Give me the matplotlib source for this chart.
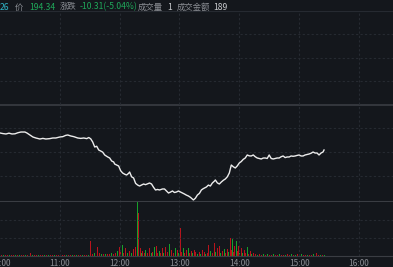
#import all necessary modules
import numpy as np
import matplotlib.pyplot as plt

plt.rcParams['font.family'] = ['Noto Sans CJK SC', 'DejaVu Sans']

#------------------------------#
#-----data---------------------#
#------------------------------#

prev_close = 204.65

# minutes after 10:00 and price
price_min = [0, 3, 6, 9, 12, 15, 18, 21, 25, 27, 30, 33, 36, 40, 43, 46, 50, 53, 56, 60,
             63, 66, 68, 71, 74, 78, 81, 84, 87, 89, 91, 93, 95, 97, 99, 101, 103, 105, 108, 110,
             112, 114, 115, 117, 119, 121, 123, 125, 127, 129, 130, 132, 134, 136, 138, 140, 142, 144, 146, 148,
             150, 152, 154, 156, 158, 160, 163, 165, 167, 169, 171, 173, 175, 177, 179, 181, 183, 185, 187, 189,
             191, 193, 194, 196, 198, 200, 202, 204, 207, 209, 211, 213, 215, 216, 218, 220, 222, 224, 226, 228,
             230, 231, 232, 234, 236, 238, 240, 242, 244, 246, 248, 250, 252, 254, 256, 258, 260, 262, 264, 266,
             268, 270, 272, 274, 276, 278, 280, 282, 284, 286, 288, 290, 292, 294, 296, 298, 300, 302, 304, 306,
             308, 310, 312, 314, 316, 318, 320, 322, 324, 325]
price = [198.24, 198.10, 198.01, 198.20, 198.01, 198.05, 198.30, 198.46, 198.46, 198.24,
         197.78, 197.32, 197.09, 196.86, 197.00, 196.86, 196.95, 197.09, 197.09, 197.32,
         197.40, 197.70, 197.78, 197.55, 197.40, 197.09, 197.00, 197.09, 196.95, 197.20,
         196.90, 196.17, 195.03, 195.20, 194.34, 194.11, 193.85, 193.20, 192.75, 192.51,
         191.82, 191.60, 191.13, 190.90, 190.67, 189.60, 189.07, 188.80, 188.61, 189.00,
         189.30, 188.20, 187.93, 186.70, 186.32, 186.09, 186.32, 186.55, 186.40, 186.60,
         186.78, 186.55, 185.80, 185.18, 185.30, 185.18, 185.41, 185.41, 184.95, 184.49,
         184.70, 184.95, 184.60, 184.72, 184.95, 184.72, 184.50, 184.26, 184.00, 183.80,
         183.50, 183.10, 182.89, 183.30, 184.03, 184.40, 185.18, 185.50, 185.86, 186.30,
         186.09, 186.78, 187.20, 187.47, 186.80, 186.55, 187.01, 187.40, 187.70, 188.20,
         189.07, 190.00, 190.90, 190.50, 190.22, 190.70, 191.36, 191.70, 192.20, 192.51,
         193.20, 193.00, 192.97, 193.20, 192.80, 192.51, 192.40, 192.28, 192.50, 192.51,
         192.40, 193.20, 192.40, 192.28, 192.40, 192.51, 192.51, 192.80, 192.97, 192.60,
         192.74, 192.74, 192.97, 192.90, 192.97, 193.10, 193.20, 192.97, 192.97, 193.20,
         193.30, 193.42, 193.60, 193.88, 193.65, 193.65, 193.20, 193.65, 193.88, 194.34]

# volume bars: minute, volume, direction (u=up, d=down, f=flat)
vol_min = [0, 2, 4, 6, 8, 10, 12, 14, 16, 18, 20, 22, 24, 26, 28, 31, 33, 35, 37, 39,
           41, 43, 45, 47, 49, 51, 53, 55, 57, 59, 61, 63, 65, 67, 69, 71, 73, 75, 77, 79,
           81, 83, 85, 87, 89,
           91, 93, 95, 98, 100, 102, 104, 106, 108, 110, 112, 114, 116, 118, 120, 121, 123, 124, 126, 128,
           130, 132, 134, 136, 138, 139, 141, 142, 143, 145, 146, 148, 150, 152, 153, 155, 157, 158, 160, 161,
           163, 164, 166, 168, 170, 172, 174, 176, 178, 179, 181, 182, 184, 185, 187, 189, 190, 192, 193, 195,
           196, 198, 200, 201, 203, 205, 206, 208, 209, 211, 213, 215, 216, 218, 220, 221, 223, 225, 226, 228,
           229, 231, 232, 233, 234, 235, 237, 238, 239, 240, 242, 243, 245, 246, 248, 249, 251, 252, 254, 256,
           258, 260, 262, 264, 266, 268, 270, 272, 274, 276, 278, 280, 282, 284, 286, 288, 290, 292, 294, 296,
           298, 300, 302, 304, 306, 308, 310, 312, 314, 317, 319, 321, 323, 325]
vol = [1, 1, 1, 1, 1, 1, 1, 1, 1, 1, 1, 1, 1, 1, 1, 3, 1, 1, 1, 1,
       1, 1, 1, 1, 1, 1, 1, 1, 1, 1, 1, 1, 1, 1, 1, 1, 1, 1, 1, 1,
       1, 1, 1, 1, 1,
       15, 2, 3, 9, 3, 2, 2, 2, 2, 2, 3, 2, 3, 5, 9, 4, 11, 3, 8, 3,
       5, 3, 7, 9, 54, 43, 8, 3, 5, 3, 6, 3, 8, 3, 4, 9, 10, 3, 5, 3,
       8, 3, 9, 4, 12, 6, 3, 8, 6, 3, 28, 4, 8, 3, 6, 8, 3, 5, 3, 6,
       4, 2, 4, 2, 6, 4, 2, 3, 11, 5, 3, 13, 4, 8, 10, 3, 5, 7, 3, 7,
       4, 18, 6, 18, 4, 10, 15, 5, 10, 3, 8, 3, 6, 3, 9, 2, 5, 2, 3, 2,
       1, 2, 1, 2, 1, 2, 1, 1, 2, 1, 1, 2, 1, 1, 1, 2, 1, 2, 1, 1,
       2, 1, 2, 1, 1, 1, 1, 1, 2, 3, 1, 1, 1, 1]
vol_dir = list("ddudduddududdudfudud"
               "uddududdududdududdud"
               "uddud"
               "uduuudfufduduuududuu"
               "duufududduuddududuud"
               "duududuuduududduuduu"
               "duddduddduddududdudd"
               "udddudddudduddudduud"
               "duddudduddudduddudud"
               "ddudduddddfdudd"[:14])

# header texts
header = ["26", "价", "194.34", "涨跌", "-10.31(-5.04%)", "成交量", "1", "成交金额", "189"]
header_c = ["#2fb4c6", "#8c8f95", "#1fa85a", "#8c8f95", "#1fa85a", "#8c8f95", "#c8cacd",
            "#8c8f95", "#c8cacd"]
header_x = [0, 15, 29, 60, 80, 138, 167, 177, 213]

tick_min = [0, 60, 120, 180, 240, 300, 360]
tick_lab = ["10:00", "11:00", "12:00", "13:00", "14:00", "15:00", "16:00"]

#------------------------------#
#-----plot---------------------#
#------------------------------#

bg = "#14171c"
grid_c = "#262a31"
sep_c = "#3a3d43"
colors = {"u": "#17a02a", "d": "#b8141c", "f": "#d0d0d0"}

W, H = 393, 267
fig = plt.figure(figsize=(W / 100, H / 100), dpi=100, facecolor=bg)

xmax = W / 0.997
ax = fig.add_axes([0, (H - 202) / H, 1, 191 / H], facecolor=bg)
axv = fig.add_axes([0, (H - 256) / H, 1, 54 / H], facecolor=bg)

pp = 0.2291  # price per pixel
ax.set_ylim(prev_close - 97 * pp, prev_close + 94 * pp)
ax.set_xlim(0, xmax)
for k in [-3, -2, -1, 1, 2, 3]:
    ax.axhline(prev_close + k * 23.5 * pp, color=grid_c, lw=0.8, ls=(0, (2, 2)))
ax.axhline(prev_close, color=sep_c, lw=1.2)
ax.axhline(prev_close + 93.5 * pp, color=grid_c, lw=0.8)
for t in tick_min[1:]:
    ax.axvline(t, color=grid_c, lw=0.8, ls=(0, (2, 2)))
    axv.axvline(t, color=grid_c, lw=0.8, ls=(0, (2, 2)))
ax.plot(price_min, price, color="#ececec", lw=1.0)
ax.axhline(prev_close - 97 * pp, color=sep_c, lw=1.5)
ax.set_xticks([])
ax.set_yticks([])
for s in ax.spines.values():
    s.set_visible(False)

# volume
axv.set_xlim(0, xmax)
axv.set_ylim(0, 54)
axv.axhline(18, color=grid_c, lw=0.8, ls=(0, (2, 2)))
axv.axhline(36, color=grid_c, lw=0.8, ls=(0, (2, 2)))
axv.bar(vol_min, vol, width=1.0, color=[colors[d] for d in vol_dir], linewidth=0,
        antialiased=False)
for s in axv.spines.values():
    s.set_visible(False)
axv.spines['bottom'].set_visible(True)
axv.spines['bottom'].set_color(sep_c)
axv.set_yticks([])
axv.set_xticks(tick_min)
axv.set_xticklabels(tick_lab, fontsize=6, color="#8a8d93")
axv.tick_params(axis='x', length=0, pad=2)

# header line
for txt, c, x in zip(header, header_c, header_x):
    fs = 6.0 if txt[0] in "价涨成" else 6.2
    fig.text(x / W, 1 - 7 / H, txt, color=c, fontsize=fs, va="center", ha="left")

plt.savefig("out.png", dpi=100, facecolor=bg)
